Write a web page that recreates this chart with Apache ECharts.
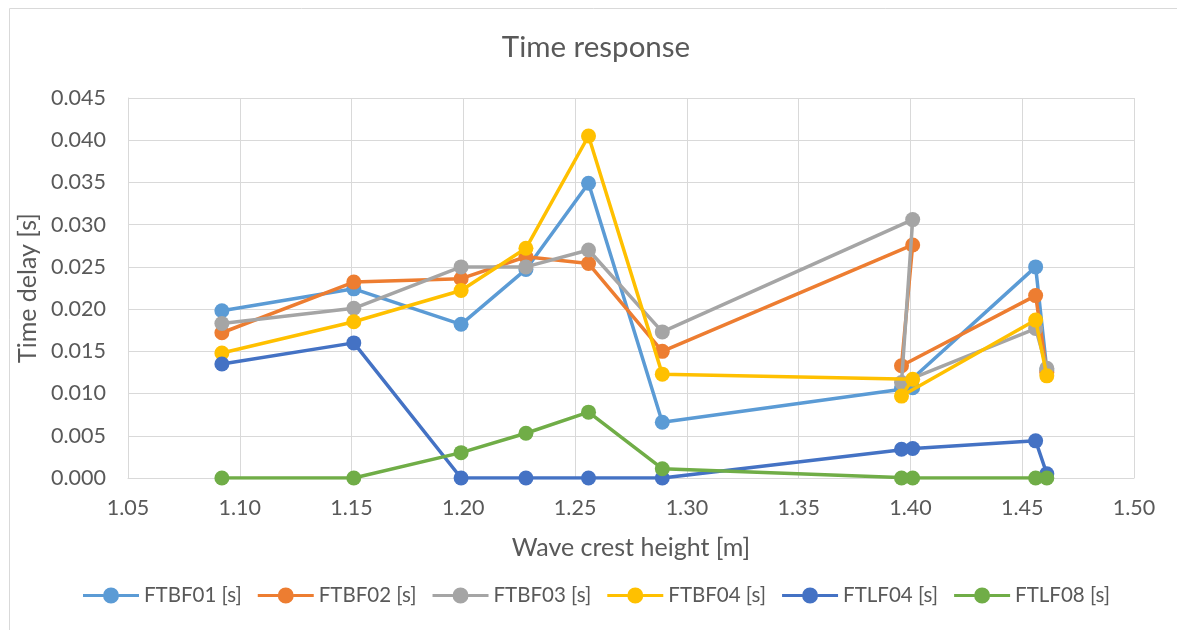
<!DOCTYPE html>
<html>
<head>
<meta charset="utf-8">
<script src="https://cdn.jsdelivr.net/npm/echarts@6/dist/echarts.min.js"></script>
<style>
html,body{margin:0;padding:0;background:#fff;}
#chart{width:1177px;height:630px;}
</style>
</head>
<body>
<div id="chart"></div>
<script>
const crestHeight = [1.092, 1.151, 1.199, 1.228, 1.256, 1.289, 1.401, 1.396, 1.456, 1.461];
const FTBF01 = [0.0198, 0.0224, 0.0182, 0.0247, 0.0349, 0.0066, 0.0107, 0.0106, 0.0250, 0.0128];
const FTBF02 = [0.0172, 0.0232, 0.0236, 0.0262, 0.0254, 0.0150, 0.0276, 0.0133, 0.0216, 0.0125];
const FTBF03 = [0.0183, 0.0201, 0.0250, 0.0250, 0.0270, 0.0173, 0.0306, 0.0113, 0.0177, 0.0130];
const FTBF04 = [0.0148, 0.0185, 0.0222, 0.0272, 0.0405, 0.0123, 0.0117, 0.0097, 0.0187, 0.0121];
const FTLF04 = [0.0135, 0.0160, 0.0000, 0.0000, 0.0000, 0.0000, 0.0035, 0.0034, 0.0044, 0.0005];
const FTLF08 = [0.0000, 0.0000, 0.0030, 0.0053, 0.0078, 0.0011, 0.0000, 0.0000, 0.0000, 0.0000];
const seriesNames = ['FTBF01 [s]', 'FTBF02 [s]', 'FTBF03 [s]', 'FTBF04 [s]', 'FTLF04 [s]', 'FTLF08 [s]'];
const seriesValues = [FTBF01, FTBF02, FTBF03, FTBF04, FTLF04, FTLF08];
const colors = ['#5B9BD5', '#ED7D31', '#A5A5A5', '#FFC000', '#4472C4', '#70AD47'];

const FONT = 'Lato';
const TXT = '#595959';
const legendIcon = 'path://M0,6.5L20.2,6.5L20.2,9.5L0,9.5Z' +
  'M35.8,6.5L56,6.5L56,9.5L35.8,9.5Z' +
  'M20,8A8,8 0 1,1 36,8A8,8 0 1,1 20,8Z';
const chart = echarts.init(document.getElementById('chart'));
chart.setOption({
  animation: false,
  textStyle: { fontFamily: FONT, color: TXT },
  graphic: [{
    type: 'rect', left: 7, top: 6, silent: true,
    shape: { width: 1200, height: 700 },
    style: { fill: 'none', stroke: '#d9d9d9', lineWidth: 1 }
  }],
  title: {
    text: 'Time response',
    left: 591, top: 27, textAlign: 'center',
    textStyle: { fontFamily: FONT, fontSize: 29.5, fontWeight: 'normal', color: TXT }
  },
  grid: { left: 128, right: 43, top: 98, bottom: 152, containLabel: false },
  legend: {
    left: 83, top: 585, padding: 0,
    itemWidth: 56, itemHeight: 16, itemGap: 16,
    icon: legendIcon,
    textStyle: { fontFamily: FONT, fontSize: 20.5, color: TXT },
    data: seriesNames
  },
  xAxis: {
    type: 'value', min: 1.05, max: 1.5, interval: 0.05,
    name: 'Wave crest height [m]', nameLocation: 'middle', nameGap: 57,
    nameTextStyle: { fontFamily: FONT, fontSize: 25, color: TXT },
    axisLine: { show: true, lineStyle: { color: '#d9d9d9' } },
    axisTick: { show: false },
    axisLabel: { fontFamily: FONT, fontSize: 21.5, color: TXT, margin: 19,
      formatter: v => v.toFixed(2) },
    splitLine: { show: true, lineStyle: { color: '#d9d9d9', width: 1 } }
  },
  yAxis: {
    type: 'value', min: 0, max: 0.045, interval: 0.005,
    name: 'Time delay [s]', nameLocation: 'middle', nameGap: 88, nameRotate: 90,
    nameTextStyle: { fontFamily: FONT, fontSize: 25, color: TXT },
    axisLine: { show: true, lineStyle: { color: '#d9d9d9' } },
    axisTick: { show: false },
    axisLabel: { fontFamily: FONT, fontSize: 21.5, color: TXT, margin: 22,
      formatter: v => v.toFixed(3) },
    splitLine: { show: true, lineStyle: { color: '#d9d9d9', width: 1 } }
  },
  series: seriesNames.map((name, i) => ({
    name: name,
    type: 'line',
    data: crestHeight.map((x, j) => [x, seriesValues[i][j]]),
    symbol: 'circle',
    symbolSize: 15,
    showAllSymbol: true,
    lineStyle: { width: 3.5, color: colors[i] },
    itemStyle: { color: colors[i] },
    z: 2 + i
  }))
});
</script>
</body>
</html>
